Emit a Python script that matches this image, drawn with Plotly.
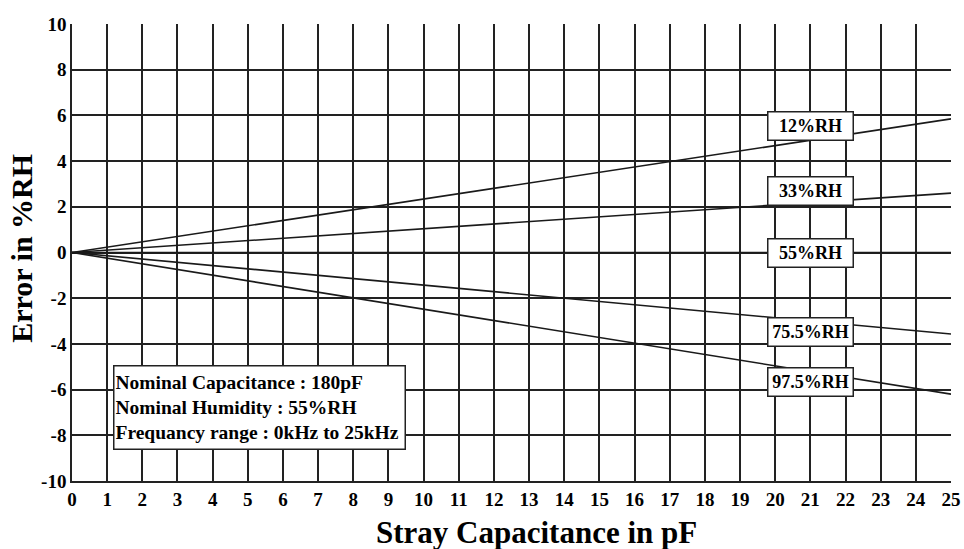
import plotly.graph_objects as go

# Data
series_names = ["12%RH", "33%RH", "55%RH", "75.5%RH", "97.5%RH"]
x_points = [0, 25]
end_values = [5.85, 2.6, 0.0, -3.57, -6.2]
label_x = [21, 21, 21, 21, 21]
label_y = [5.55, 2.7, 0.0, -3.5, -5.65]
info_lines = ["Nominal Capacitance : 180pF",
              "Nominal Humidity : 55%RH",
              "Frequancy range : 0kHz to 25kHz"]
x_ticks = list(range(0, 26))
y_ticks = list(range(-10, 11, 2))
x_title = "Stray Capacitance in pF"
y_title = "Error in %RH"

FONT = "Liberation Serif"

fig = go.Figure()
for name, v in zip(series_names, end_values):
    fig.add_trace(go.Scatter(x=x_points, y=[0, v], mode="lines",
                             line=dict(color="#1a1a1a", width=1.6),
                             name=name, showlegend=False, hoverinfo="skip"))

for name, lx, ly in zip(series_names, label_x, label_y):
    fig.add_annotation(x=lx, y=ly, text="<b>%s</b>" % name, showarrow=False,
                       font=dict(family=FONT, size=18, color="black"),
                       bgcolor="white", bordercolor="#222", borderwidth=1.5,
                       width=82, height=25)

fig.add_annotation(x=1.17, y=-6.78, xanchor="left", yanchor="middle",
                   text="<br>".join("<b>%s</b>" % t for t in info_lines),
                   align="left", showarrow=False,
                   font=dict(family=FONT, size=19.5, color="black"),
                   bgcolor="white", bordercolor="#222", borderwidth=1.5,
                   width=288, height=80)

fig.add_annotation(xref="paper", yref="paper", x=0.529, y=-0.113,
                   text="<b>%s</b>" % x_title, showarrow=False,
                   xanchor="center", yanchor="middle",
                   font=dict(family=FONT, size=31, color="black"))
fig.add_annotation(xref="paper", yref="paper", x=-0.057, y=0.51,
                   text="<b>%s</b>" % y_title, showarrow=False, textangle=-90,
                   xanchor="center", yanchor="middle",
                   font=dict(family=FONT, size=30, color="black"))

fig.update_layout(
    width=964, height=549,
    margin=dict(l=72, r=13, t=24, b=68),
    paper_bgcolor="white", plot_bgcolor="white",
    font=dict(family=FONT, color="black"),
    hovermode=False,
    xaxis=dict(range=[0, 25], tickvals=x_ticks,
               ticktext=["<b>%d</b>" % t for t in x_ticks],
               tickfont=dict(family=FONT, size=19, color="black"),
               showgrid=True, gridcolor="#222", gridwidth=1.5,
               showline=True, linecolor="#222", linewidth=1.5,
               zeroline=False, ticks="", ticklen=0, automargin=False),
    yaxis=dict(range=[-10, 10], tickvals=y_ticks,
               ticktext=["<b>%d</b>" % t for t in y_ticks],
               tickfont=dict(family=FONT, size=19, color="black"),
               showgrid=True, gridcolor="#222", gridwidth=1.5,
               showline=True, linecolor="#222", linewidth=1.5,
               zeroline=False, ticks="", ticklen=0, automargin=False),
)

fig.write_html("out.html", config={"displayModeBar": False},
               post_script="document.body.style.margin='0';"
                           "document.body.style.overflow='hidden';")
